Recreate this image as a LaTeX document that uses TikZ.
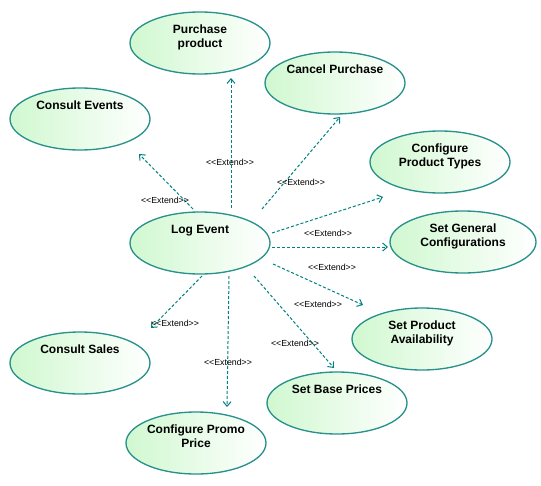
\documentclass[tikz,border=0pt]{standalone}
\usepackage{fontspec}
\setmainfont{Liberation Sans}
\usetikzlibrary{arrows.meta, shapes.geometric}
\definecolor{ucline}{RGB}{0,128,128}
\definecolor{ucedge}{RGB}{40,145,140}
\definecolor{ucfill}{RGB}{208,248,208}
\newcommand{\extlbl}{<\kern0pt<Extend>\kern0pt>}

\begin{document}
\begin{tikzpicture}[
  x=0.75pt, y=-0.75pt,
  uc/.style={ellipse, draw=ucedge, line width=1pt, left color=ucfill, right color=white, minimum width=105pt, minimum height=46.5pt, inner sep=0pt, align=center, font=\fontsize{9}{10.5}\selectfont\bfseries},
  lbl/.style={font=\fontsize{6.6}{8}\selectfont, inner sep=0pt},
  ext/.style={->, draw=ucline, line width=0.75pt, dash pattern=on 2.25pt off 1.5pt},
  >={Straight Barb[length=3.5pt,width=6pt]}
]
  \useasboundingbox (0,0) rectangle (541,485);

  \node[uc] (purch)  at (200,43)  {Purchase\\product\\~};
  \node[uc] (cancel) at (335,83)  {Cancel Purchase\\~\\~};
  \node[uc] (cev)    at (80,119)  {Consult Events\\~\\~};
  \node[uc] (cpt)    at (440,162) {Configure\\Product Types\\~};
  \node[uc] (log)    at (200,243) {Log Event\\~\\~};
  \node[uc, minimum width=109.5pt] (sgc) at (463,242) {Set General\\Configurations\\~};
  \node[uc] (spa)    at (422,339) {Set Product\\Availability\\~};
  \node[uc] (csales) at (80,363)  {Consult Sales\\~\\~};
  \node[uc] (sbp)    at (337,403) {Set Base Prices\\~\\~};
  \node[uc] (cpp)    at (196,443) {Configure Promo\\Price\\~};

  \draw[ext] ([shift={(31,-35)}]log.center) -- ([shift={(31,35)}]purch.center);
  \draw[ext] ([shift={(62,-34)}]log.center) -- ([shift={(5,34)}]cancel.center);
  \draw[ext] ([shift={(-7,-34)}]log.center) -- ([shift={(59,35)}]cev.center);
  \draw[ext] ([shift={(72,-10)}]log.center) -- ([shift={(-57,35)}]cpt.center);
  \draw[ext] ([shift={(72,4)}]log.center)   -- ([shift={(-75,5)}]sgc.center);
  \draw[ext] ([shift={(73,21)}]log.center)  -- ([shift={(-59,-34)}]spa.center);
  \draw[ext] ([shift={(54,33)}]log.center)  -- ([shift={(-3,-35)}]sbp.center);
  \draw[ext] ([shift={(29,33)}]log.center)  -- ([shift={(31,-36)}]cpp.center);
  \draw[ext] ([shift={(2,33)}]log.center)   -- ([shift={(71,-35)}]csales.center);

  \node[lbl] (xpurch)  at (230,162) {\extlbl};
  \node[lbl] (xcancel) at (301,182) {\extlbl};
  \node[lbl] (xcev)    at (165,200) {\extlbl};
  \node[lbl] (xcpt)    at (328,233) {\extlbl};
  \node[lbl] (xsgc)    at (332,267) {\extlbl};
  \node[lbl] (xspa)    at (318,304) {\extlbl};
  \node[lbl] (xsbp)    at (295,343) {\extlbl};
  \node[lbl] (xcpp)    at (228,362) {\extlbl};
  \node[lbl] (xcsales) at (175,323) {\extlbl};
\end{tikzpicture}
\end{document}
